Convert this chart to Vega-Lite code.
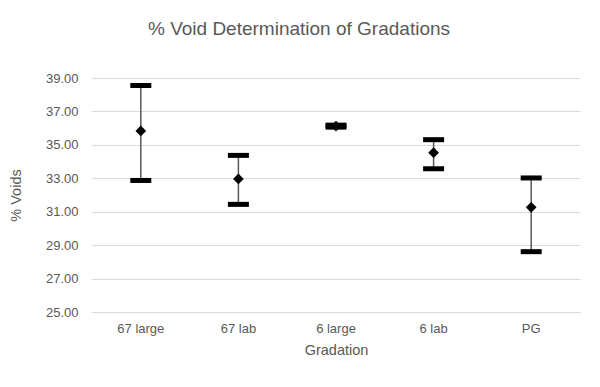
{
  "$schema": "https://vega.github.io/schema/vega-lite/v6.json",
  "autosize": "none",
  "width": 488,
  "height": 234,
  "padding": {"left": 92, "top": 78, "right": 20, "bottom": 75},
  "background": "white",
  "title": {
    "text": "% Void Determination of Gradations",
    "font": "Liberation Sans",
    "fontSize": 19,
    "fontWeight": "normal",
    "color": "#595959",
    "anchor": "middle",
    "dx": -37,
    "offset": 33
  },
  "data": {
    "values": [
      {"gradation": "67 large", "mean": 35.83, "low": 32.87, "high": 38.55},
      {"gradation": "67 lab", "mean": 32.96, "low": 31.44, "high": 34.37},
      {"gradation": "6 large", "mean": 36.12, "low": 36.06, "high": 36.18},
      {"gradation": "6 lab", "mean": 34.53, "low": 33.57, "high": 35.31},
      {"gradation": "PG", "mean": 31.26, "low": 28.61, "high": 33.02}
    ]
  },
  "encoding": {
    "x": {
      "field": "gradation",
      "type": "nominal",
      "sort": null,
      "scale": {"type": "band", "paddingInner": 0, "paddingOuter": 0},
      "axis": {
        "title": "Gradation",
        "labelAngle": 0,
        "ticks": false,
        "domain": true,
        "domainColor": "#d9d9d9",
        "labelPadding": 10,
        "titlePadding": 8
      }
    }
  },
  "layer": [
    {
      "mark": {"type": "rule", "color": "#595959", "strokeWidth": 1.5},
      "encoding": {
        "y": {
          "field": "low",
          "type": "quantitative",
          "scale": {"domain": [25, 39], "nice": false, "zero": false},
          "axis": {"title": "% Voids", "values": [25, 27, 29, 31, 33, 35, 37, 39], "format": ".2f", "labelOverlap": false, "labelFlush": false, "ticks": false, "domain": false, "grid": true, "gridColor": "#d9d9d9", "labelPadding": 14, "titlePadding": 22}
        },
        "y2": {"field": "high"}
      }
    },
    {
      "mark": {"type": "tick", "color": "black", "thickness": 5, "size": 21, "opacity": 1},
      "encoding": {"y": {"field": "low", "type": "quantitative",
        "axis": {"title": "% Voids", "values": [25, 27, 29, 31, 33, 35, 37, 39], "format": ".2f", "labelOverlap": false, "labelFlush": false, "ticks": false, "domain": false, "grid": true, "gridColor": "#d9d9d9", "labelPadding": 14, "titlePadding": 22}}}
    },
    {
      "mark": {"type": "tick", "color": "black", "thickness": 5, "size": 21, "opacity": 1},
      "encoding": {"y": {"field": "high", "type": "quantitative",
        "axis": {"title": "% Voids", "values": [25, 27, 29, 31, 33, 35, 37, 39], "format": ".2f", "labelOverlap": false, "labelFlush": false, "ticks": false, "domain": false, "grid": true, "gridColor": "#d9d9d9", "labelPadding": 14, "titlePadding": 22}}}
    },
    {
      "mark": {"type": "point", "shape": "diamond", "filled": true, "color": "black", "size": 115, "opacity": 1},
      "encoding": {"y": {"field": "mean", "type": "quantitative",
        "axis": {"title": "% Voids", "values": [25, 27, 29, 31, 33, 35, 37, 39], "format": ".2f", "labelOverlap": false, "labelFlush": false, "ticks": false, "domain": false, "grid": true, "gridColor": "#d9d9d9", "labelPadding": 14, "titlePadding": 22}}}
    }
  ],
  "config": {
    "font": "Liberation Sans",
    "axis": {
      "labelFont": "Liberation Sans",
      "labelFontSize": 13,
      "labelColor": "#595959",
      "titleFont": "Liberation Sans",
      "titleFontSize": 14.5,
      "titleFontWeight": "normal",
      "titleColor": "#595959"
    },
    "view": {"stroke": null}
  }
}
